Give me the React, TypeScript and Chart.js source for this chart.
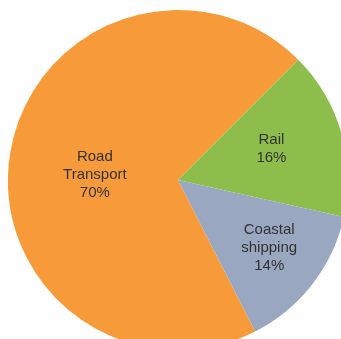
import React, { useEffect, useRef } from "react";
import { Chart, registerables } from "chart.js";

Chart.register(...registerables);

const categories = ["Road Transport", "Rail", "Coastal shipping"];
const labelLines = [["Road", "Transport", "70%"], ["Rail", "16%"], ["Coastal", "shipping", "14%"]];
const shares = [70, 16, 14];
const colors = ["#F79B3A", "#8DBE4C", "#99A7C0"];
const labelRadius = [0.49, 0.58, 0.67];
const labelAngleShift = [-5.5, -2.5, -1];

const labelPlugin = {
  id: "sliceLabels",
  afterDatasetsDraw(chart: any) {
    const ctx = chart.ctx;
    const meta = chart.getDatasetMeta(0);
    ctx.save();
    ctx.font = "15px 'Liberation Sans', Arial, sans-serif";
    ctx.fillStyle = "#333333";
    ctx.textAlign = "center";
    ctx.textBaseline = "middle";
    meta.data.forEach((arc: any, i: number) => {
      const p = arc.getProps(["x", "y", "startAngle", "endAngle", "outerRadius"], true);
      const mid = (p.startAngle + p.endAngle) / 2 + (labelAngleShift[i] * Math.PI) / 180;
      const r = p.outerRadius * labelRadius[i];
      const cx = p.x + Math.cos(mid) * r;
      const cy = p.y + Math.sin(mid) * r;
      const lines = labelLines[i];
      const lh = 18;
      lines.forEach((t, j) => {
        ctx.fillText(t, cx, cy + (j - (lines.length - 1) / 2) * lh);
      });
    });
    ctx.restore();
  },
};

export default function App() {
  const ref = useRef<HTMLCanvasElement | null>(null);
  useEffect(() => {
    if (!ref.current) return;
    const chart = new Chart(ref.current, {
      type: "pie",
      data: {
        labels: categories,
        datasets: [
          {
            data: shares,
            backgroundColor: colors,
            borderWidth: 0,
          },
        ],
      },
      options: {
        responsive: false,
        animation: false,
        rotation: 153,
        layout: { padding: 0 },
        plugins: {
          legend: { display: false },
          tooltip: { enabled: false },
        },
      },
      plugins: [labelPlugin],
    });
    return () => chart.destroy();
  }, []);
  return (
    <div
      style={{
        position: "absolute",
        left: 0,
        top: 0,
        width: 341,
        height: 339,
        overflow: "hidden",
        background: "#FEFEFE",
      }}
    >
      <canvas
        ref={ref}
        width={340}
        height={340}
        style={{ position: "absolute", left: 8, top: 10, width: 340, height: 340 }}
      />
    </div>
  );
}
